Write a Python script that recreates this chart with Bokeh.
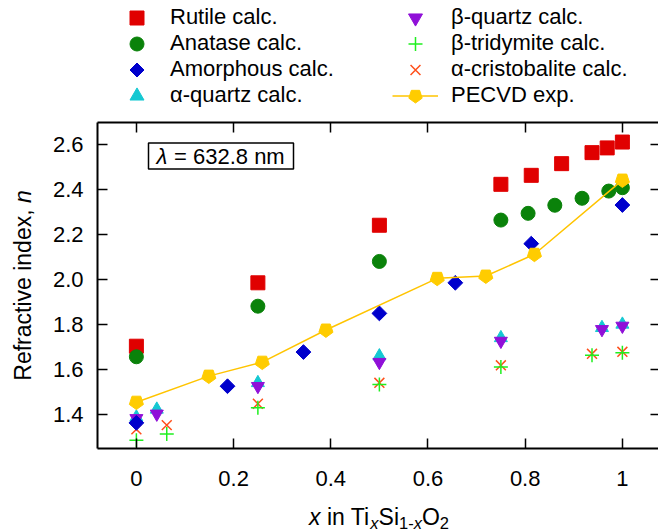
import math

from bokeh.embed import file_html
from bokeh.models import (BoxAnnotation, FixedTicker, Label, Legend, LegendItem,
                          LinearAxis, Range1d)
from bokeh.plotting import figure
from bokeh.resources import INLINE

FONT = "Liberation Sans"
TXT = "22px"

# ---------------------------------------------------------------- data
rutile_x = [0.0, 0.25, 0.5, 0.75, 0.8125, 0.875, 0.9375, 0.96875, 1.0]
rutile_n = [1.705, 1.987, 2.243, 2.425, 2.465, 2.517, 2.566, 2.587, 2.613]

anatase_x = [0.0, 0.25, 0.5, 0.75, 0.806, 0.861, 0.917, 0.972, 1.0]
anatase_n = [1.658, 1.883, 2.082, 2.266, 2.296, 2.332, 2.363, 2.395, 2.410]

amorph_x = [0.0, 0.1875, 0.34375, 0.5, 0.65625, 0.8125, 1.0]
amorph_n = [1.364, 1.527, 1.679, 1.851, 1.987, 2.161, 2.333]

aquartz_x = [0.0, 0.042, 0.25, 0.5, 0.75, 0.958, 1.0]
aquartz_n = [1.389, 1.424, 1.542, 1.661, 1.742, 1.787, 1.802]

bquartz_x = [0.0, 0.042, 0.25, 0.5, 0.75, 0.958, 1.0]
bquartz_n = [1.384, 1.404, 1.527, 1.634, 1.728, 1.780, 1.795]

tridym_x = [0.0, 0.0625, 0.25, 0.5, 0.75, 0.9375, 1.0]
tridym_n = [1.287, 1.315, 1.431, 1.535, 1.612, 1.665, 1.676]

cristo_x = [0.0, 0.0625, 0.25, 0.5, 0.75, 0.9375, 1.0]
cristo_n = [1.335, 1.354, 1.449, 1.542, 1.620, 1.671, 1.680]

pecvd_x = [0.0, 0.149, 0.259, 0.390, 0.619, 0.719, 0.819, 1.0]
pecvd_n = [1.456, 1.572, 1.634, 1.777, 2.007, 2.017, 2.114, 2.444]

x_ticks = [0, 0.2, 0.4, 0.6, 0.8, 1]
x_tick_labels = ["0", "0.2", "0.4", "0.6", "0.8", "1"]
y_ticks = [1.4, 1.6, 1.8, 2.0, 2.2, 2.4, 2.6]
y_tick_labels = ["1.4", "1.6", "1.8", "2.0", "2.2", "2.4", "2.6"]

# ---------------------------------------------------------------- layout
# The frame fills the whole canvas; the axes box is drawn with fixed-location
# axes so that legend and titles outside the box are not clipped away.
W, H = 658, 532
BOX_L, BOX_T, BOX_B = 97, 122, 448          # pixel edges of the axes box
BOX_X0, PX_PER_X = -0.08, 486.0
BOX_Y0, BOX_Y1 = 1.25, 2.7
PX_PER_Y = (BOX_B - BOX_T) / (BOX_Y1 - BOX_Y0)
BOX_X1 = BOX_X0 + (W - BOX_L) / PX_PER_X


def dx(px):
    """canvas pixel column -> data x"""
    return BOX_X0 + (px - BOX_L) / PX_PER_X


def dy(py):
    """canvas pixel row -> data y"""
    return BOX_Y1 - (py - BOX_T) / PX_PER_Y


p = figure(width=W, height=H, output_backend="svg", toolbar_location=None,
           x_range=Range1d(dx(0), dx(W)), y_range=Range1d(dy(H), dy(0)),
           x_axis_location=None, y_axis_location=None,
           min_border=0)
p.outline_line_color = None
p.xgrid.visible = False
p.ygrid.visible = False
p.background_fill_color = "white"
p.border_fill_color = "white"


def axis(ticks, labels, show, tick_in, standoff, where, bounds, line=True):
    ax = LinearAxis(ticker=FixedTicker(ticks=ticks), fixed_location=where, bounds=bounds,
                    major_tick_in=tick_in, major_tick_out=0,
                    minor_tick_in=0, minor_tick_out=0,
                    axis_line_width=2, major_tick_line_width=1.5,
                    major_label_text_font=FONT, major_label_text_font_size=TXT,
                    major_label_text_color="black",
                    major_label_standoff=standoff)
    ax.major_label_overrides = {t: (l if show else "") for t, l in zip(ticks, labels)}
    if not line:
        ax.axis_line_color = None
    return ax


p.add_layout(axis(y_ticks, y_tick_labels, True, 10, 14, BOX_X0, (BOX_Y0, BOX_Y1)), "left")
p.add_layout(axis(x_ticks, x_tick_labels, True, 10, 22, BOX_Y0, (BOX_X0, BOX_X1)), "below")
p.add_layout(axis(x_ticks, x_tick_labels, False, 10, 0, BOX_Y1, (BOX_X0, BOX_X1)), "above")
p.add_layout(axis(y_ticks, y_tick_labels, False, 8, 0, BOX_X1, (BOX_Y0, BOX_Y1), line=False),
             "right")

# ---------------------------------------------------------------- series
r_cris = p.scatter(cristo_x, cristo_n, marker="x", size=14, line_color="#ff4f1a", line_width=1.5)
r_trid = p.scatter(tridym_x, tridym_n, marker="cross", size=14, line_color="#1fef1f", line_width=1.5)
r_aq = p.scatter(aquartz_x, aquartz_n, marker="triangle", size=13,
                 fill_color="#14c8d2", line_color="#14c8d2")
r_bq = p.scatter(bquartz_x, bquartz_n, marker="inverted_triangle", size=13,
                 fill_color="#9010d8", line_color="#9010d8")
r_rut = p.scatter(rutile_x, rutile_n, marker="square", size=14,
                  fill_color="#e00000", line_color="#e00000")
r_ana = p.scatter(anatase_x, anatase_n, marker="circle", size=14,
                  fill_color="#0a820a", line_color="#0a820a")
r_amo = p.ngon(amorph_x, amorph_n, radius=7.4, radius_units="screen", n=4,
               fill_color="#0000cc", line_color="#0000cc")
r_pl = p.line(pecvd_x, pecvd_n, line_color="#ffc400", line_width=1.5)
r_pm = p.ngon(pecvd_x, pecvd_n, radius=7.4, radius_units="screen", n=5, angle=math.pi,
              fill_color="#ffcc00", line_color="#ffcc00")

# ---------------------------------------------------------------- legend
# one small legend per entry, so every row can keep a large glyph box
GLYPH = 35
ROW0, PITCH = 17, 26
columns = [
    (119, GLYPH, 16, [("Rutile calc.", [r_rut]), ("Anatase calc.", [r_ana]),
                      ("Amorphous calc.", [r_amo]), ("α-quartz calc.", [r_aq])]),
    (392, 46, 13, [("β-quartz calc.", [r_bq]), ("β-tridymite calc.", [r_trid]),
                   ("α-cristobalite calc.", [r_cris]), ("PECVD exp.", [r_pl, r_pm])]),
]
for left, gw, standoff, entries in columns:
    for row, (label, rends) in enumerate(entries):
        centre = ROW0 + row * PITCH
        p.add_layout(Legend(items=[LegendItem(label=label, renderers=rends)],
                            location=(left, H - centre - GLYPH / 2),
                            padding=0, margin=0, border_line_color=None,
                            background_fill_alpha=0, label_text_font=FONT,
                            label_text_font_size=TXT, label_text_color="black",
                            glyph_height=GLYPH, glyph_width=gw, label_height=25,
                            label_standoff=standoff))

# ---------------------------------------------------------------- wavelength box
p.add_layout(BoxAnnotation(left=dx(148), right=dx(293), top=dy(142.5), bottom=dy(168.5),
                           fill_color=None, line_color="black", line_alpha=1, line_width=1.5))
p.add_layout(Label(x=dx(156), y=dy(156), text="λ", text_font=FONT, text_font_size=TXT,
                   text_font_style="italic", text_baseline="middle", text_color="black"))
p.add_layout(Label(x=dx(173.5), y=dy(156), text="= 632.8 nm", text_font=FONT,
                   text_font_size=TXT, text_baseline="middle", text_color="black"))

# ---------------------------------------------------------------- axis titles
ADV = {"x": 0.500, " ": 0.278, "i": 0.222, "n": 0.556, "T": 0.611, "S": 0.667,
       "O": 0.778, "1": 0.556, "-": 0.333, "2": 0.556}
MAIN, SUB = 23.0, 16.5
pieces = [("x", "italic", MAIN), (" ", "normal", MAIN), ("in Ti", "normal", MAIN),
          ("x", "italic", SUB), ("Si", "normal", MAIN), ("1-", "normal", SUB),
          ("x", "italic", SUB), ("O", "normal", MAIN), ("2", "normal", SUB)]
total = sum(sum(ADV[c] for c in t) * s for t, _, s in pieces)
cx = BOX_L + (W + 2 - BOX_L) / 2
pos = cx - total / 2
for t, style, size in pieces:
    if t.strip():
        mid_y = 516.0 if size == MAIN else 522.5
        p.add_layout(Label(x=dx(pos), y=dy(mid_y), text=t, text_font=FONT,
                           text_font_size=f"{size}px", text_font_style=style,
                           text_baseline="middle", text_color="black"))
    pos += sum(ADV[c] for c in t) * size

# vertical title: "Refractive index, n"
w_main = 7.447 * MAIN
w_sp = 0.278 * MAIN
w_n = 0.556 * MAIN
mid = (BOX_T + BOX_B) / 2
start = mid + (w_main + w_sp + w_n) / 2
p.add_layout(Label(x=dx(22), y=dy(start), text="Refractive index,", angle=math.pi / 2,
                   text_font=FONT, text_font_size=f"{MAIN}px", text_baseline="middle",
                   text_color="black"))
p.add_layout(Label(x=dx(22), y=dy(start - w_main - w_sp), text="n", angle=math.pi / 2,
                   text_font=FONT, text_font_size=f"{MAIN}px", text_font_style="italic",
                   text_baseline="middle", text_color="black"))

open("out.html", "w").write(file_html(p, INLINE))
